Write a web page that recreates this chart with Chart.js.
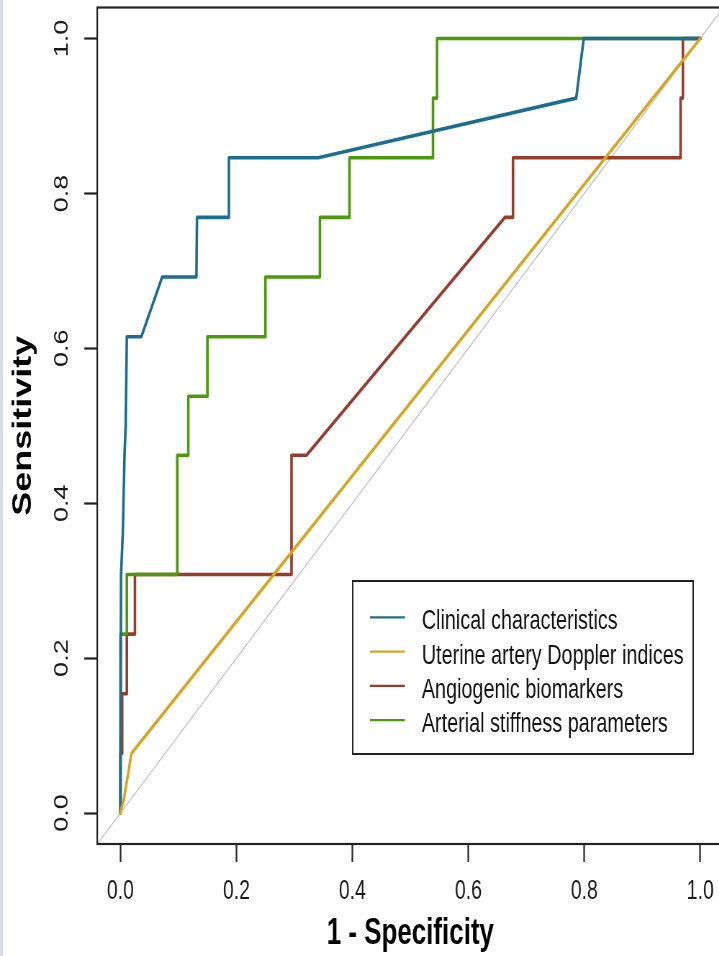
<!DOCTYPE html>
<html>
<head>
<meta charset="utf-8">
<title>ROC curves</title>
<script src="https://cdn.jsdelivr.net/npm/chart.js@4/dist/chart.umd.min.js"></script>
<style>
  html, body { margin: 0; padding: 0; background: #fff; overflow: hidden; width: 719px; height: 956px; }
  #wrap { position: relative; width: 719px; height: 956px; overflow: hidden; background: #fff; }
  #roc { position: absolute; left: 0; top: 0; }
  #edge { position: absolute; left: 0; top: 0; width: 3px; height: 956px; background: #d5dde3; }
</style>
</head>
<body>
<div id="wrap">
  <!-- the figure is drawn on a wider canvas and squeezed horizontally -->
  <canvas id="roc" width="1010" height="956" style="width:727.2px;height:956px;"></canvas>
  <div id="edge"></div>
</div>
<script>
// ---- series names and colours ----
const seriesNames = [
  'Clinical characteristics',
  'Uterine artery Doppler indices',
  'Angiogenic biomarkers',
  'Arterial stiffness parameters'
];
const seriesColors = ['#1c6e8e', '#d9a422', '#963d2e', '#4c990c'];

// ---- ROC coordinates: 1 - specificity (x) and sensitivity (y) ----
const clinicalFpr  = [0, 0.001, 0.004, 0.007, 0.009, 0.011, 0.036, 0.072, 0.131, 0.132, 0.186, 0.187, 0.341, 0.786, 0.799, 1.0];
const clinicalSens = [0, 0.308, 0.360, 0.462, 0.500, 0.615, 0.615, 0.692, 0.692, 0.769, 0.769, 0.846, 0.846, 0.923, 1.0, 1.0];

const dopplerFpr  = [0, 0.006, 0.019, 1.0];
const dopplerSens = [0, 0.018, 0.077, 1.0];

const angioFpr  = [0, 0, 0.003, 0.003, 0.011, 0.011, 0.025, 0.025, 0.295, 0.295, 0.321, 0.663, 0.677, 0.677, 0.966, 0.966, 0.970, 0.970, 1.0];
const angioSens = [0, 0.077, 0.077, 0.154, 0.154, 0.231, 0.231, 0.308, 0.308, 0.462, 0.462, 0.769, 0.769, 0.846, 0.846, 0.923, 0.923, 1.0, 1.0];

const stiffFpr  = [0, 0, 0.011, 0.011, 0.098, 0.098, 0.117, 0.117, 0.150, 0.150, 0.250, 0.250, 0.344, 0.344, 0.395, 0.395, 0.539, 0.539, 0.546, 0.546, 1.0];
const stiffSens = [0, 0.231, 0.231, 0.308, 0.308, 0.462, 0.462, 0.538, 0.538, 0.615, 0.615, 0.692, 0.692, 0.769, 0.769, 0.846, 0.846, 0.923, 0.923, 1.0, 1.0];

// ---- axes ----
const tickValues = [0, 0.2, 0.4, 0.6, 0.8, 1.0];
const tickLabels = ['0.0', '0.2', '0.4', '0.6', '0.8', '1.0'];
const axisMin = -0.04, axisMax = 1.04;
const chanceLine = [axisMin, axisMax];

const FONT = "'Liberation Sans', Arial, sans-serif";
Chart.defaults.font.family = FONT;

const toPoints = (xs, ys) => xs.map((x, i) => ({ x: x, y: ys[i] }));
const curve = (i, xs, ys, order) => ({
  label: seriesNames[i],
  data: toPoints(xs, ys),
  borderColor: seriesColors[i],
  backgroundColor: seriesColors[i],
  borderWidth: 3.6,
  borderCapStyle: 'round',
  borderJoinStyle: 'round',
  pointRadius: 0,
  tension: 0,
  fill: false,
  order: order
});

// box around the plotting region plus the boxed legend
const framePlugin = {
  id: 'frameAndLegend',
  afterDatasetsDraw(chart) {
    const ctx = chart.ctx;
    const a = chart.chartArea;
    ctx.save();
    ctx.strokeStyle = '#222';
    ctx.lineWidth = 2.2;
    ctx.strokeRect(a.left, a.top, a.right - a.left, a.bottom - a.top);

    const box = { left: 490, top: 581, right: 963, bottom: 754 };
    ctx.fillStyle = '#fff';
    ctx.fillRect(box.left, box.top, box.right - box.left, box.bottom - box.top);
    ctx.lineWidth = 2;
    ctx.strokeStyle = '#222';
    ctx.strokeRect(box.left, box.top, box.right - box.left, box.bottom - box.top);

    const rowY0 = 617.3, rowStep = 34.25;
    ctx.font = '27.5px ' + FONT;
    ctx.textAlign = 'left';
    ctx.textBaseline = 'alphabetic';
    seriesNames.forEach((name, i) => {
      const y = rowY0 + i * rowStep;
      ctx.beginPath();
      ctx.strokeStyle = seriesColors[i];
      ctx.lineWidth = 2.2;
      ctx.moveTo(514, y);
      ctx.lineTo(562.5, y);
      ctx.stroke();
      ctx.fillStyle = '#111';
      ctx.fillText(name, 586, y + 12);
    });
    ctx.restore();
  }
};

new Chart(document.getElementById('roc'), {
  type: 'line',
  data: {
    datasets: [
      curve(0, clinicalFpr, clinicalSens, 1),
      curve(1, dopplerFpr, dopplerSens, 0),
      curve(2, angioFpr, angioSens, 3),
      curve(3, stiffFpr, stiffSens, 2),
      {
        label: 'reference',
        data: toPoints(chanceLine, chanceLine),
        borderColor: '#c2c2c2',
        borderWidth: 1.4,
        pointRadius: 0,
        tension: 0,
        fill: false,
        order: 4
      }
    ]
  },
  options: {
    responsive: false,
    animation: false,
    devicePixelRatio: 1,
    layout: { padding: { top: 7.5, right: 4.9, left: 0, bottom: 0 } },
    plugins: { legend: { display: false }, tooltip: { enabled: false } },
    scales: {
      x: {
        type: 'linear',
        min: axisMin,
        max: axisMax,
        afterBuildTicks: s => { s.ticks = tickValues.map(v => ({ value: v })); },
        afterFit: s => { s.height = 112; s.paddingLeft = 0; s.paddingRight = 0; },
        ticks: {
          callback: (v, i) => tickLabels[i],
          font: { size: 27 },
          color: '#1a1a1a',
          padding: 13.5,
          minRotation: 0,
          maxRotation: 0,
          autoSkip: false
        },
        grid: { drawOnChartArea: false, drawTicks: true, tickLength: 18, tickWidth: 2.2, tickColor: '#222' },
        border: { display: false },
        title: {
          display: true,
          text: '1 - Specificity',
          font: { size: 36, weight: 'bold' },
          color: '#000',
          padding: { top: 0, bottom: 0 }
        }
      },
      y: {
        type: 'linear',
        min: axisMin,
        max: axisMax,
        afterBuildTicks: s => { s.ticks = tickValues.map(v => ({ value: v })); },
        afterFit: s => { s.width = 135.1; s.paddingTop = 0; s.paddingBottom = 0; },
        ticks: {
          callback: (v, i) => tickLabels[i],
          font: { size: 27 },
          color: '#1a1a1a',
          padding: 11.5,
          minRotation: 90,
          maxRotation: 90,
          crossAlign: 'center',
          autoSkip: false
        },
        grid: { drawOnChartArea: false, drawTicks: true, tickLength: 18, tickWidth: 2.2, tickColor: '#222' },
        border: { display: false },
        title: {
          display: true,
          text: 'Sensitivity',
          font: { size: 36, weight: 'bold' },
          color: '#000',
          padding: { top: 11.7, bottom: 0 }
        }
      }
    }
  },
  plugins: [framePlugin]
});
</script>
</body>
</html>
